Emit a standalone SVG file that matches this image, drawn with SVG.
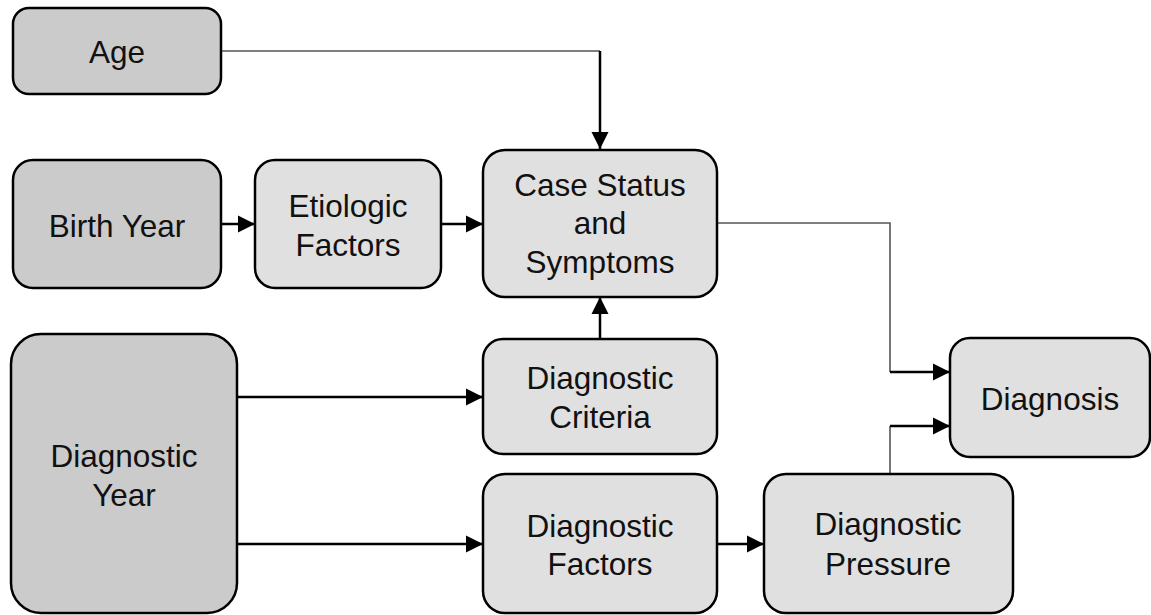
<svg xmlns="http://www.w3.org/2000/svg" width="1151" height="615" viewBox="0 0 1151 615">
<defs>
<style>
.dark{fill:#cbcbcb;stroke:#000;stroke-width:2.5}
.light{fill:#e0e0e0;stroke:#000;stroke-width:2.5}
.lbl{font-family:"Liberation Sans",Arial,sans-serif;font-size:31.5px;fill:#111;text-anchor:middle}
.thick{fill:none;stroke:#000;stroke-width:2.5}
.thin{fill:none;stroke:#555;stroke-width:1.6}
</style>
<marker id="ah" markerUnits="userSpaceOnUse" markerWidth="18" markerHeight="18" refX="17" refY="9" orient="auto" viewBox="0 0 18 18">
<path d="M0,0.5 L17,9 L0,17.5 Z" fill="#000"/>
</marker>
</defs>
<rect width="1151" height="615" fill="#fff"/>
<g id="connectors">
<path class="thin" d="M221,51 H600"/>
<path class="thick" d="M600,51 V149" marker-end="url(#ah)"/>
<path class="thick" d="M221,224 H255" marker-end="url(#ah)"/>
<path class="thick" d="M441,224 H483" marker-end="url(#ah)"/>
<path class="thick" d="M600,339 V297" marker-end="url(#ah)"/>
<path class="thick" d="M237,397 H483" marker-end="url(#ah)"/>
<path class="thick" d="M237,544 H483" marker-end="url(#ah)"/>
<path class="thick" d="M717,544 H764" marker-end="url(#ah)"/>
<path class="thin" d="M717,223 H890 V372"/>
<path class="thick" d="M890,372 H950" marker-end="url(#ah)"/>
<path class="thin" d="M890,474 V426"/>
<path class="thick" d="M890,426 H950" marker-end="url(#ah)"/>
</g>
<g id="age">
<rect class="dark" x="13" y="8" width="208" height="86" rx="16"/>
<text class="lbl" x="117" y="63">Age</text>
</g>
<g id="birth-year">
<rect class="dark" x="13" y="160" width="208" height="128" rx="20"/>
<text class="lbl" x="117" y="237">Birth Year</text>
</g>
<g id="etiologic-factors">
<rect class="light" x="255" y="160" width="186" height="128" rx="20"/>
<text class="lbl" x="348" y="217">Etiologic</text>
<text class="lbl" x="348" y="256">Factors</text>
</g>
<g id="case-status">
<rect class="light" x="483" y="150" width="234" height="147" rx="22"/>
<text class="lbl" x="600" y="196">Case Status</text>
<text class="lbl" x="600" y="234">and</text>
<text class="lbl" x="600" y="273">Symptoms</text>
</g>
<g id="diagnostic-year">
<rect class="dark" x="11" y="334" width="226" height="279" rx="30"/>
<text class="lbl" x="124" y="467">Diagnostic</text>
<text class="lbl" x="124" y="506">Year</text>
</g>
<g id="diagnostic-criteria">
<rect class="light" x="483" y="339" width="234" height="115" rx="20"/>
<text class="lbl" x="600" y="389">Diagnostic</text>
<text class="lbl" x="600" y="428">Criteria</text>
</g>
<g id="diagnostic-factors">
<rect class="light" x="483" y="474" width="234" height="139" rx="22"/>
<text class="lbl" x="600" y="537">Diagnostic</text>
<text class="lbl" x="600" y="575">Factors</text>
</g>
<g id="diagnostic-pressure">
<rect class="light" x="764" y="474" width="249" height="139" rx="22"/>
<text class="lbl" x="888" y="535">Diagnostic</text>
<text class="lbl" x="888" y="575">Pressure</text>
</g>
<g id="diagnosis">
<rect class="light" x="950" y="338" width="200" height="119" rx="20"/>
<text class="lbl" x="1050" y="410">Diagnosis</text>
</g>
</svg>
